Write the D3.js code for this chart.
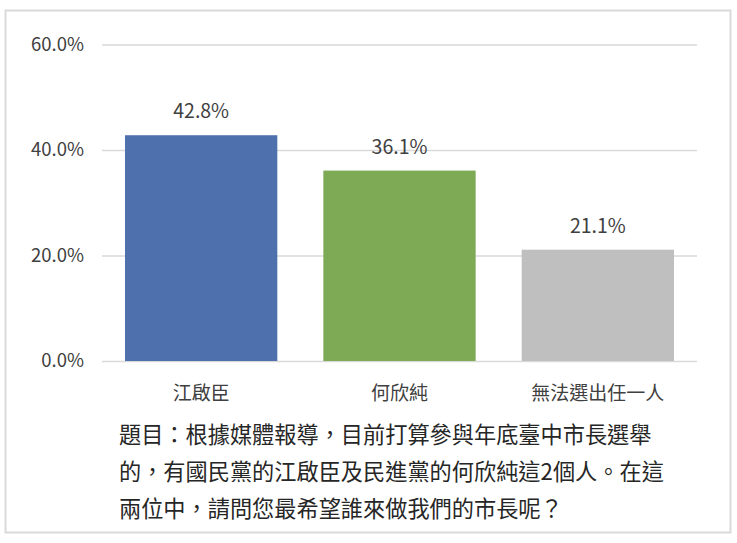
<html lang="zh-Hant">
<head>
<meta charset="utf-8">
<script src="https://d3js.org/d3.v7.min.js"></script>
<style>
  body { margin: 0; background: #fff; }
  text { font-family: "Noto Sans CJK TC", "Noto Sans", sans-serif; }
</style>
</head>
<body>
<script>
// chart data
var categories = ["江啟臣", "何欣純", "無法選出任一人"]
var values = [42.8, 36.1, 21.1]
var barColors = ["#4E71AE", "#7EAA55", "#BFBFBF"]
var tickValues = [0, 20, 40, 60]
var noteLines = [
  "題目：根據媒體報導，目前打算參與年底臺中市長選舉",
  "的，有國民黨的江啟臣及民進黨的何欣純這2個人。在這",
  "兩位中，請問您最希望誰來做我們的市長呢？"
]

var width = 737
var height = 543

var svg = d3.select("body").append("svg")
    .attr("width", width)
    .attr("height", height)

// frame
svg.append("rect")
    .attr("x", 5.5).attr("y", 10.5)
    .attr("width", 725).attr("height", 522)
    .attr("fill", "#fff")
    .attr("stroke", "#d9d9d9")
    .attr("stroke-width", 2)

// plot area (window.top is reserved, so use own names)
var plotLeft = 102, plotRight = 697, plotTop = 44.5, plotBottom = 361

var x = d3.scaleBand()
    .domain(categories)
    .range([plotLeft, plotRight])
    .paddingInner(0.232)
    .paddingOuter(0.116)

var y = d3.scaleLinear()
    .domain([0, 60])
    .range([plotBottom, plotTop])

// gridlines + tick labels
var yAxis = d3.axisLeft(y)
    .tickValues(tickValues)
    .tickSize(-(plotRight - plotLeft))
    .tickPadding(18)
    .tickFormat(function(d) { return d3.format(".1f")(d) + "%" })

var gy = svg.append("g")
    .attr("transform", "translate(" + plotLeft + ",0)")
    .call(yAxis)
gy.select(".domain").remove()
gy.selectAll(".tick line").attr("stroke", "#d9d9d9").attr("stroke-width", 1.3)
gy.selectAll(".tick text")
    .attr("fill", "#404040")
    .attr("font-size", "18.5px")
    .attr("font-family", "'Noto Sans CJK TC', sans-serif")

// bars
svg.selectAll("rect.bar")
    .data(values)
    .enter().append("rect")
    .attr("class", "bar")
    .attr("x", function(d, i) { return x(categories[i]) })
    .attr("y", function(d) { return y(d) })
    .attr("width", x.bandwidth())
    .attr("height", function(d) { return y(0) - y(d) })
    .attr("fill", function(d, i) { return barColors[i] })

// value labels
svg.selectAll("text.val")
    .data(values)
    .enter().append("text")
    .attr("class", "val")
    .attr("x", function(d, i) { return x(categories[i]) + x.bandwidth() / 2 })
    .attr("y", function(d) { return y(d) - 17 })
    .attr("text-anchor", "middle")
    .attr("font-size", "19.5px")
    .attr("fill", "#404040")
    .text(function(d) { return d3.format(".1f")(d) + "%" })

// category labels
svg.selectAll("text.cat")
    .data(categories)
    .enter().append("text")
    .attr("class", "cat")
    .attr("x", function(d) { return x(d) + x.bandwidth() / 2 })
    .attr("y", 400)
    .attr("text-anchor", "middle")
    .attr("font-size", "19px")
    .attr("fill", "#404040")
    .text(function(d) { return d })

// question text
svg.selectAll("text.note")
    .data(noteLines)
    .enter().append("text")
    .attr("class", "note")
    .attr("x", 119)
    .attr("y", function(d, i) { return 443 + i * 37 })
    .attr("font-size", "22.2px")
    .attr("fill", "#262626")
    .text(function(d) { return d })
</script>
</body>
</html>
